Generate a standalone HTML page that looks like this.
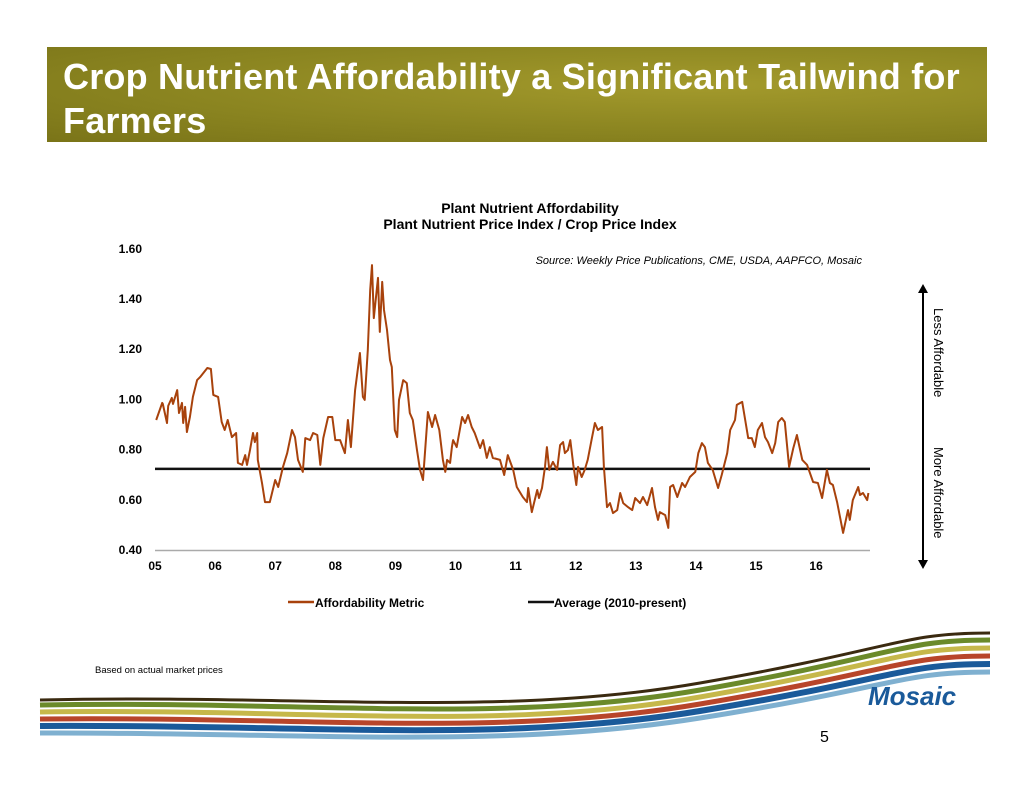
<!DOCTYPE html>
<html><head><meta charset="utf-8">
<style>
body{margin:0;width:1034px;height:799px;background:#fff;overflow:hidden;font-family:"Liberation Sans",sans-serif;position:relative}
#banner{position:absolute;left:47px;top:47px;width:940px;height:95px;background:radial-gradient(ellipse at 70% 40%,#a39a2c,#8a8420 60%,#7a7418);}
#banner h1{margin:0;position:absolute;left:16px;top:8px;color:#fff;font-size:36px;line-height:44px;font-weight:bold;letter-spacing:0.2px}
.abs{position:absolute}
</style></head><body>
<div id="banner"><h1>Crop Nutrient Affordability a Significant Tailwind for Farmers</h1></div>
<svg class="abs" style="left:0;top:0" width="1034" height="799">
<text x="530" y="213" text-anchor="middle" font-size="14" font-weight="bold">Plant Nutrient Affordability</text>
<text x="530" y="229" text-anchor="middle" font-size="14" font-weight="bold">Plant Nutrient Price Index / Crop Price Index</text>
<text x="862" y="264" text-anchor="end" font-size="11" font-style="italic">Source: Weekly Price Publications, CME, USDA, AAPFCO, Mosaic</text>
<g id="yt" font-size="12" font-weight="bold" text-anchor="end"></g>
<g id="xt" font-size="12" font-weight="bold" text-anchor="middle"></g>
<line x1="155" x2="870" y1="550.5" y2="550.5" stroke="#aaa" stroke-width="1.5"/>
<line id="avg" stroke="#111" stroke-width="2.5"/>
<path id="series" fill="none" stroke="#a8420c" stroke-width="2" stroke-linejoin="round"/>
<g font-size="12" font-weight="bold">
<line x1="288" x2="314" y1="602" y2="602" stroke="#a8420c" stroke-width="2.5"/>
<text x="315" y="607">Affordability Metric</text>
<line x1="528" x2="554" y1="602" y2="602" stroke="#111" stroke-width="2.5"/>
<text x="554" y="607">Average (2010-present)</text>
</g>
<g>
<line x1="923" x2="923" y1="292" y2="561" stroke="#000" stroke-width="2"/>
<polygon points="918,293 928,293 923,284" fill="#000"/>
<polygon points="918,560 928,560 923,569" fill="#000"/>
</g>
<text transform="translate(934,308) rotate(90)" font-size="13">Less Affordable</text>
<text transform="translate(934,447) rotate(90)" font-size="13">More Affordable</text>
<text x="95" y="673" font-size="9.5">Based on actual market prices</text>
<g fill="none" stroke-width="5">
<path d="M40,705 C300,700 500,725 700,690 S900,640 990,640" stroke="#6b8a2a"/>
<path d="M40,712 C300,708 500,732 700,697 S900,648 990,648" stroke="#c6b84a"/>
<path d="M40,719 C300,716 500,738 700,704 S900,656 990,656" stroke="#b8452a"/>
<path d="M40,726 C300,724 500,744 700,711 S900,664 990,664" stroke="#1a5a9a" stroke-width="6"/>
<path d="M40,733 C300,732 500,750 700,718 S900,672 990,672" stroke="#7fb0d0"/>
<path d="M40,700 C300,694 500,718 700,683 S900,633 990,633" stroke="#3a2a10" stroke-width="3"/>
</g>
<text x="868" y="705" font-size="26" font-weight="bold" font-style="italic" fill="#1a5a9a">Mosaic</text>
<text x="820" y="742" font-size="16">5</text>
</svg>
<script>
const yTicks=[0.4,0.6,0.8,1.0,1.2,1.4,1.6];
const xTickLabels=["05","06","07","08","09","10","11","12","13","14","15","16"];
const averageValue=0.723;
const yearOffsets=[0.02,0.12,0.13,0.20,0.22,0.28,0.30,0.37,0.40,0.45,0.47,0.50,0.53,0.58,0.63,0.70,0.75,0.87,0.93,0.97,1.05,1.11,1.16,1.21,1.28,1.35,1.38,1.45,1.50,1.53,1.58,1.63,1.66,1.70,1.71,1.78,1.83,1.91,2.00,2.05,2.13,2.20,2.28,2.33,2.38,2.46,2.50,2.58,2.63,2.70,2.75,2.80,2.88,2.95,3.00,3.08,3.16,3.21,3.26,3.33,3.41,3.46,3.49,3.54,3.58,3.61,3.64,3.71,3.74,3.78,3.81,3.86,3.91,3.94,3.99,4.03,4.06,4.13,4.19,4.24,4.29,4.36,4.41,4.46,4.54,4.61,4.66,4.73,4.79,4.83,4.86,4.91,4.94,4.96,5.02,5.11,5.16,5.21,5.27,5.32,5.41,5.46,5.52,5.57,5.62,5.74,5.81,5.87,5.96,6.02,6.12,6.19,6.21,6.27,6.36,6.39,6.44,6.49,6.52,6.56,6.62,6.69,6.74,6.79,6.82,6.87,6.91,6.96,7.01,7.04,7.10,7.15,7.20,7.27,7.32,7.37,7.44,7.47,7.52,7.57,7.62,7.69,7.74,7.79,7.87,7.94,7.99,8.07,8.12,8.19,8.27,8.32,8.37,8.40,8.49,8.54,8.57,8.62,8.69,8.77,8.82,8.90,8.99,9.04,9.10,9.15,9.20,9.28,9.37,9.43,9.52,9.57,9.65,9.68,9.77,9.82,9.87,9.93,9.98,10.03,10.10,10.15,10.20,10.27,10.32,10.37,10.43,10.48,10.55,10.62,10.68,10.77,10.85,10.95,11.03,11.10,11.18,11.23,11.28,11.35,11.45,11.53,11.56,11.61,11.70,11.73,11.78,11.85,11.87];
const metricValues=[0.918,0.986,0.982,0.906,0.974,1.006,0.982,1.037,0.946,0.986,0.906,0.970,0.870,0.930,1.010,1.077,1.089,1.125,1.121,1.018,1.010,0.910,0.878,0.918,0.850,0.866,0.747,0.739,0.778,0.739,0.798,0.866,0.830,0.866,0.759,0.667,0.591,0.591,0.679,0.651,0.731,0.786,0.878,0.850,0.759,0.711,0.846,0.838,0.866,0.858,0.739,0.846,0.930,0.930,0.838,0.838,0.786,0.918,0.810,1.037,1.185,1.010,0.998,1.197,1.436,1.535,1.324,1.484,1.269,1.468,1.356,1.277,1.157,1.129,0.878,0.850,0.998,1.077,1.065,0.946,0.918,0.798,0.719,0.679,0.950,0.890,0.938,0.878,0.759,0.711,0.759,0.747,0.810,0.838,0.810,0.930,0.906,0.938,0.890,0.866,0.806,0.838,0.767,0.810,0.767,0.759,0.699,0.778,0.719,0.651,0.611,0.591,0.647,0.551,0.639,0.607,0.647,0.731,0.810,0.719,0.751,0.719,0.818,0.830,0.786,0.798,0.838,0.739,0.659,0.731,0.691,0.719,0.759,0.846,0.906,0.878,0.890,0.731,0.571,0.587,0.547,0.559,0.627,0.587,0.571,0.559,0.607,0.587,0.611,0.579,0.647,0.571,0.520,0.551,0.539,0.488,0.651,0.659,0.611,0.667,0.651,0.691,0.711,0.786,0.826,0.810,0.747,0.719,0.647,0.699,0.786,0.878,0.918,0.978,0.990,0.918,0.846,0.846,0.810,0.878,0.906,0.850,0.830,0.786,0.826,0.910,0.926,0.910,0.731,0.806,0.858,0.759,0.739,0.671,0.667,0.607,0.719,0.667,0.659,0.591,0.468,0.559,0.520,0.599,0.651,0.619,0.627,0.599,0.627];
const X0=155,PX_PER_YEAR=60.1,Y0=550,PX_PER_UNIT=251;
const xs=t=>X0+t*PX_PER_YEAR;
const ys=v=>Y0-(v-0.4)*PX_PER_UNIT;
const NS="http://www.w3.org/2000/svg";
const yt=document.getElementById('yt');
yTicks.forEach(v=>{const t=document.createElementNS(NS,'text');t.setAttribute('x',142);t.setAttribute('y',ys(v)+4);t.textContent=v.toFixed(2);


yt.appendChild(t);});
const xt=document.getElementById('xt');
xTickLabels.forEach((l,i)=>{const t=document.createElementNS(NS,'text');t.setAttribute('x',xs(i));t.setAttribute('y',570);t.textContent=l;


xt.appendChild(t);});
const avg=document.getElementById('avg');
avg.setAttribute('x1',155);avg.setAttribute('x2',870);avg.setAttribute('y1',ys(averageValue));avg.setAttribute('y2',ys(averageValue));
document.getElementById('series').setAttribute('d',yearOffsets.map((t,i)=>(i?'L':'M')+xs(t).toFixed(1)+','+ys(metricValues[i]).toFixed(1)).join(''));
</script>
</body></html>
